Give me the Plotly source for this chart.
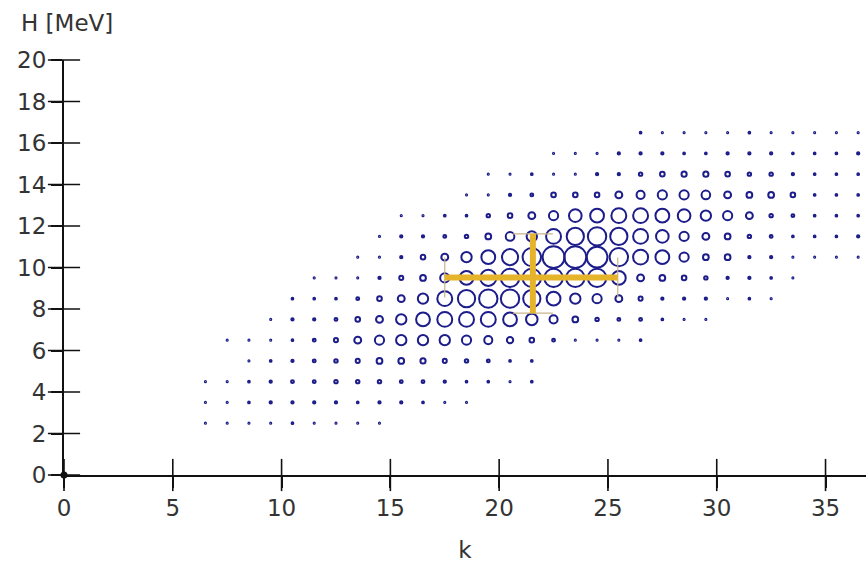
import plotly.graph_objects as go

# ---- data ----
H_rows = [2.5, 3.5, 4.5, 5.5, 6.5, 7.5, 8.5, 9.5, 10.5, 11.5, 12.5, 13.5, 14.5, 15.5, 16.5]
k_start = [6.5, 6.5, 6.5, 8.5, 7.5, 9.5, 10.5, 11.5, 13.5, 14.5, 15.5, 18.5, 19.5, 22.5, 26.5]
weights = [
    [1, 1, 1, 1, 1.5, 1, 1, 1, 1],
    [1, 1, 1.5, 2, 2, 2, 2, 1.5, 2, 2, 1.5, 1, 1],
    [1, 1, 1.5, 2, 2.5, 2.5, 3, 3, 3, 2.5, 2.5, 2, 1.5, 1.5, 1, 1.5],
    [1, 1.5, 2, 2.5, 3, 3.5, 5, 5, 4.5, 3.5, 3, 2.5, 1.5, 1.5],
    [1, 1, 1, 1.5, 2.5, 3.5, 6, 8, 9, 9, 9, 8, 7, 5.5, 4, 2.5, 1, 1, 1, 1.5],
    [1, 2, 2, 2.5, 4, 6, 9, 12, 13, 13, 13, 12, 10, 7, 5, 3, 2.5, 2.5, 1.5, 1, 1],
    [1.5, 1.5, 1.5, 2.5, 4, 6, 9, 13, 15, 16, 16, 15, 12, 9, 8, 6, 3.5, 2, 2, 2, 1, 1.5, 1],
    [1, 1, 1, 2, 3.5, 5, 8, 12, 14, 16, 16, 16, 16, 16, 12, 6, 5, 4, 3, 2, 2, 1.5, 1],
    [1, 1, 2, 4, 6, 9, 12, 14, 16, 19, 19, 18, 16, 13, 12, 8, 5, 5, 2, 2, 1, 1, 1, 1],
    [1, 2, 2, 2.5, 3, 5, 7.5, 9, 13, 15, 16, 15, 13, 11, 8, 6, 5, 3, 2.5, 1.5, 1.5, 1.5, 2],
    [1, 1, 1.5, 1.5, 3, 4, 6, 8, 11, 12, 13, 13, 12, 11, 9, 8, 6, 3, 2.5, 1.5, 1.5, 1.5],
    [1, 1, 2, 2.5, 4, 4, 4, 6, 7, 8, 8, 7.5, 6, 5, 5, 4, 1.5, 1.5, 1.5],
    [1, 1, 1.5, 1, 1, 2, 2, 3, 4, 4.5, 4.5, 4, 3, 3, 2, 1.5, 1.5, 1.5],
    [1, 1, 1, 2, 2, 2, 1.5, 1.5, 2, 2, 2, 1.5, 1.5, 1.5, 2],
    [1.5, 1, 1, 1, 1, 1.5, 1, 1, 1, 1, 1],
]

fit_k = [21.55]
fit_H = [9.52]
fit_k_minus = [4.05]
fit_k_plus = [3.9]
fit_H_minus = [1.72]
fit_H_plus = [2.1]

x_ticks = [0, 5, 10, 15, 20, 25, 30, 35]
y_ticks = [0, 2, 4, 6, 8, 10, 12, 14, 16, 18, 20]

# ---- build cell lists ----
xs, ys, ss = [], [], []
for h, k0, row in zip(H_rows, k_start, weights):
    for i, w in enumerate(row):
        xs.append(k0 + i)
        ys.append(h)
        ss.append(w)

FONT = "DejaVu Sans"
TXT = "#333333"
NAVY = "#1c1c8a"

fig = go.Figure()

fig.add_trace(go.Scatter(
    x=xs, y=ys, mode="markers",
    marker=dict(symbol="circle-open", size=ss, sizemode="diameter", sizeref=0.87,
                opacity=1, color=NAVY, line=dict(width=2, color=NAVY)),
    hoverinfo="skip", showlegend=False,
))

# thin error bars with caps
fig.add_trace(go.Scatter(
    x=fit_k, y=fit_H, mode="markers",
    marker=dict(size=1, color="#e3b22c"),
    error_x=dict(type="data", symmetric=False, array=fit_k_plus, arrayminus=fit_k_minus,
                 width=20, thickness=1.2, color="#c8b48a"),
    error_y=dict(type="data", symmetric=False, array=fit_H_plus, arrayminus=fit_H_minus,
                 width=20, thickness=1.2, color="#c8b48a"),
    hoverinfo="skip", showlegend=False,
))
# thick error bars
fig.add_trace(go.Scatter(
    x=fit_k, y=fit_H, mode="markers",
    marker=dict(size=1, color="#e3b22c"),
    error_x=dict(type="data", symmetric=False, array=fit_k_plus, arrayminus=fit_k_minus,
                 width=0, thickness=6, color="#e6b42a"),
    error_y=dict(type="data", symmetric=False, array=fit_H_plus, arrayminus=fit_H_minus,
                 width=0, thickness=6, color="#e6b42a"),
    hoverinfo="skip", showlegend=False,
))

# crossing ticks (inner halves)
fig.add_trace(go.Scatter(
    x=x_ticks, y=[0] * len(x_ticks), mode="markers",
    marker=dict(symbol="line-ns", size=23, line=dict(width=1.6, color="#111111")),
    cliponaxis=False, hoverinfo="skip", showlegend=False,
))
fig.add_trace(go.Scatter(
    x=[0] * len(y_ticks), y=y_ticks, mode="markers",
    marker=dict(symbol="line-ew", size=23, line=dict(width=1.6, color="#111111")),
    cliponaxis=False, hoverinfo="skip", showlegend=False,
))
# origin dot
fig.add_trace(go.Scatter(
    x=[0], y=[0], mode="markers",
    marker=dict(size=7, color="#111111"),
    cliponaxis=False, hoverinfo="skip", showlegend=False,
))

fig.update_layout(
    width=866, height=564,
    margin=dict(l=64, r=0, t=60, b=89),
    paper_bgcolor="white", plot_bgcolor="white",
    font=dict(family=FONT, size=23, color=TXT),
    xaxis=dict(range=[0, 36.86], tickvals=x_ticks, showgrid=False, zeroline=False,
               showline=True, linecolor="#111111", linewidth=2,
               ticks="outside", ticklen=11, tickwidth=1.6, tickcolor="#111111",
               tickfont=dict(family=FONT, size=23, color=TXT),
               title=dict(text="k", font=dict(family=FONT, size=23, color=TXT), standoff=22)),
    yaxis=dict(range=[0, 20], tickvals=y_ticks, showgrid=False, zeroline=False,
               showline=True, linecolor="#111111", linewidth=2,
               ticks="outside", ticklen=11, tickwidth=1.6, tickcolor="#111111",
               tickfont=dict(family=FONT, size=23, color=TXT)),
    annotations=[dict(text="H [MeV]", xref="paper", yref="paper", x=0.004, y=1.09,
                      xanchor="center", yanchor="middle", showarrow=False,
                      font=dict(family=FONT, size=23, color=TXT))],
)

fig.write_html("out.html")
